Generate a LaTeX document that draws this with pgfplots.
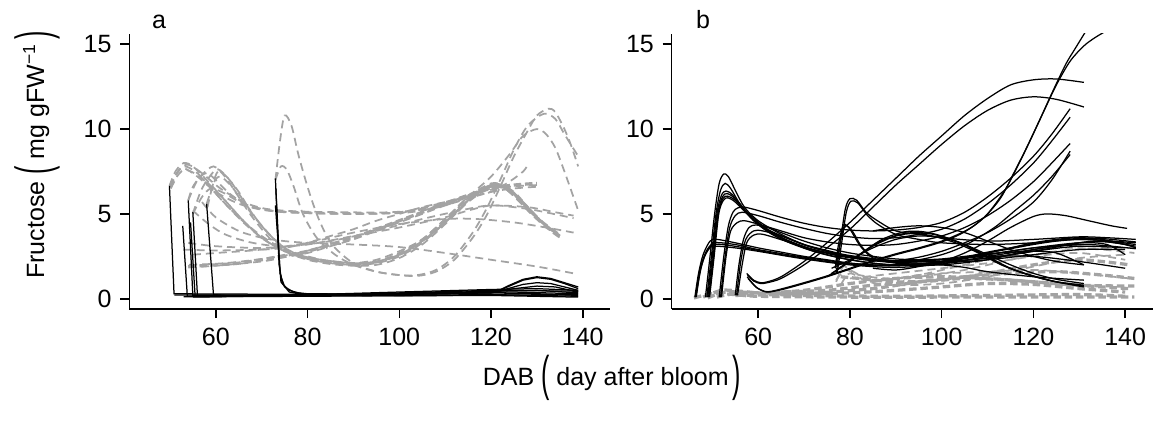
\documentclass[border=0pt]{standalone}
\usepackage{fontspec}
\setmainfont{Liberation Sans}
\usepackage{pgfplots}
\pgfplotsset{compat=1.18}
\usepackage{graphicx}

\definecolor{gry}{RGB}{163,163,163}
\newcommand{\bp}[1]{\raisebox{-0.22em}{\scalebox{1}[1.95]{#1}}}
\newcommand{\fs}{\fontsize{10}{11}\selectfont}

\pgfplotsset{
  panel/.style={
    scale only axis, width=192.4pt, height=110pt,
    anchor=south west,
    xmin=41.15, xmax=146, ymin=-0.6, ymax=15.6,
    axis x line*=bottom, axis y line*=left,
    axis line style={line width=0.6pt,-},
    xtick={60,80,...,140}, ytick={0,5,10,15},
    tick align=outside, major tick length=3.6pt,
    tick style={line width=0.6pt,black},
    ticklabel style={font=\fs},
    xticklabel style={yshift=-0.6pt},
    /pgf/number format/assume math mode=true,
  },
  blk/.style={black, line width=0.5pt},
  sblk/.style={black, line width=0.5pt, smooth, tension=0.5},
  gd/.style={gry, line width=0.7pt, dash pattern=on 3.2pt off 2pt, smooth, tension=0.5},
  gdt/.style={gry, line width=1.3pt, dash pattern=on 3pt off 1.5pt, smooth, tension=0.5},
}

\begin{document}
\begin{tikzpicture}
\useasboundingbox (0,0) rectangle (462pt,169.2pt);

% ---------------- panel a ----------------
\begin{axis}[panel, at={(51.72pt,45.6pt)}]
% grey dashed
\addplot[gd] coordinates {(49.9,6.65)(51.2,7.5)(53,8.0)(55,7.8)(58,7.0)(62,5.8)(66,4.6)(70,3.6)(75,2.8)(80,2.35)(85,2.1)(90,2.0)(95,2.1)(100,2.5)(105,3.3)(110,4.5)(115,5.8)(119,6.6)(122,6.7)(126,5.8)(130,4.8)(134.5,3.8)};
\addplot[gd] coordinates {(50,6.6)(51.5,7.4)(53.2,7.8)(56,7.4)(60,6.2)(65,4.8)(70,3.7)(75,2.9)(80,2.5)(85,2.2)(90,2.1)(95,2.2)(100,2.7)(105,3.5)(110,4.7)(115,6.0)(120,6.8)(123,6.6)(127,5.6)(131,4.5)(135,3.7)};
\addplot[gd] coordinates {(50.2,6.5)(51.8,7.3)(53.5,7.6)(57,7.1)(61,5.9)(66,4.5)(71,3.4)(76,2.7)(81,2.3)(86,2.1)(91,2.0)(96,2.2)(101,2.7)(106,3.6)(111,4.8)(116,6.0)(120,6.7)(124,6.4)(128,5.3)(132,4.3)(135,3.75)};
\addplot[gd] coordinates {(54,5.8)(55,6.6)(57,7.3)(59.5,7.8)(62,7.2)(65,6.0)(68,4.8)(72,3.5)(76,2.7)(80,2.3)(85,2.05)(90,1.95)(95,2.0)(100,2.4)(105,3.2)(110,4.4)(115,5.7)(120,6.6)(123,6.7)(127,5.7)(131,4.6)(135,3.8)};
\addplot[gd] coordinates {(55,5.0)(57,6.5)(60,7.6)(62,7.3)(65,6.3)(68,5.0)(72,3.7)(76,2.8)(80,2.4)(85,2.15)(90,2.05)(95,2.15)(100,2.6)(105,3.4)(110,4.6)(115,5.9)(120,6.7)(124,6.5)(128,5.3)(132,4.3)(135,3.7)};
\addplot[gd] coordinates {(58,5.6)(59,6.4)(60.5,7.5)(63,7.0)(66,5.8)(70,4.3)(74,3.2)(78,2.6)(83,2.3)(90,2.1)(95,2.2)(100,2.6)(105,3.4)(110,4.5)(115,5.8)(120,6.6)(124,6.4)(128,5.4)(132,4.3)(134.5,3.8)};
\addplot[gd] coordinates {(58.2,5.4)(59.5,6.8)(61,7.2)(63.5,6.6)(67,5.3)(71,4.0)(75,3.0)(80,2.45)(86,2.2)(92,2.1)(97,2.3)(102,2.9)(107,3.8)(112,5.0)(117,6.2)(121,6.75)(125,6.2)(129,5.0)(133,4.1)(135,3.7)};
\addplot[gd] coordinates {(50,6.6)(51.5,7.4)(53,7.7)(56,7.2)(60,6.3)(65,5.6)(70,5.25)(75,5.1)(80,5.05)(90,5.0)(100,5.05)(105,5.2)(110,5.5)(115,6.0)(120,6.5)(123,6.5)(127,5.5)(131,4.5)(135,3.7)};
\addplot[gd] coordinates {(54,5.8)(56,7.0)(58,7.4)(60,7.0)(63,6.2)(67,5.5)(72,5.2)(80,5.1)(90,5.05)(100,5.1)(110,5.6)(115,6.1)(120,6.6)(124,6.4)(128,5.2)(132,4.2)(135,3.7)};
\addplot[gd] coordinates {(55,5.0)(57,6.0)(59,6.5)(62,6.2)(66,5.6)(72,5.2)(80,5.05)(90,5.0)(100,5.1)(110,5.7)(118,6.4)(121,6.8)(125,6.3)(129,5.1)(133,4.0)(135,3.6)};
\addplot[gd] coordinates {(50.1,6.6)(52,7.6)(54,7.9)(57,7.4)(61,6.5)(66,5.7)(71,5.3)(78,5.15)(88,5.1)(98,5.1)(106,5.3)(112,5.8)(118,6.4)(122,6.6)(126,5.9)(130,4.8)(134,3.9)};
\addplot[gdt] coordinates {(54,1.9)(60,2.0)(65,2.1)(70,2.3)(75,2.55)(80,2.8)(85,3.2)(90,3.6)(95,4.1)(100,4.6)(105,5.1)(110,5.6)(115,6.1)(120,6.5)(125,6.7)(130,6.8)};
\addplot[gd] coordinates {(54,1.85)(60,1.95)(70,2.2)(75,2.45)(80,2.7)(85,3.1)(90,3.5)(95,4.0)(100,4.5)(105,5.0)(110,5.5)(115,5.9)(120,6.3)(125,6.5)(130,6.6)};
\addplot[gd] coordinates {(54.2,2.0)(62,2.1)(70,2.35)(78,2.7)(86,3.3)(94,4.0)(102,4.8)(110,5.6)(118,6.3)(124,6.6)(130,6.7)};
\addplot[gd] coordinates {(53,2.9)(60,2.85)(70,2.9)(75,3.0)(80,3.3)(85,3.7)(90,4.1)(95,4.6)(100,5.0)(105,5.4)(110,5.7)(115,6.0)(120,6.3)(124,6.9)(127,7.5)(128,7.9)};
\addplot[gd] coordinates {(54,3.3)(60,3.1)(70,3.0)(80,3.2)(90,3.7)(100,4.2)(110,4.8)(115,5.2)(120,5.5)(125,5.4)(130,5.2)(138,4.75)};
\addplot[gd] coordinates {(55,2.6)(60,2.7)(70,2.9)(80,3.3)(90,3.9)(100,4.4)(110,4.7)(117,4.7)(125,4.5)(132,4.2)(138,3.9)};
\addplot[gd] coordinates {(57,5.7)(60,4.8)(65,4.0)(70,3.6)(75,3.4)(80,3.3)(90,3.2)(100,3.05)(110,2.7)(120,2.3)(130,1.9)(138,1.5)};
\addplot[gd] coordinates {(55,5.2)(58,4.5)(62,3.8)(68,3.3)(75,3.1)(85,3.4)(95,4.0)(105,4.7)(115,5.3)(120,5.5)(128,5.4)(134,5.1)(138,4.9)};
\addplot[gd] coordinates {(73,7.0)(74,9.3)(75,10.8)(76.5,10.2)(78,8.5)(80,6.6)(82,5.0)(84,3.8)(86,3.0)(90,2.1)(95,1.6)(100,1.4)(104,1.35)(108,1.6)(112,2.3)(116,3.6)(119,4.9)(122,6.6)(125,8.4)(128,9.9)(130,10.8)(132.5,11.2)(134,11.0)(136,10.0)(137.5,9.0)(139,7.8)};
\addplot[gd] coordinates {(73,7.0)(74.2,7.8)(75.5,7.6)(77,6.6)(79,5.0)(82,3.6)(86,2.6)(90,2.0)(95,1.6)(100,1.4)(104,1.4)(108,1.7)(112,2.5)(116,3.9)(119,5.3)(122,7.0)(125,8.8)(128,10.2)(131.5,10.9)(134,10.6)(136,9.7)(139,8.4)};
\addplot[gd] coordinates {(58,6.9)(62,5.8)(66,4.6)(70,3.6)(75,2.8)(80,2.4)(85,2.2)(90,2.1)(95,2.3)(100,2.8)(105,3.5)(110,4.7)(115,6.0)(120,7.2)(124,8.5)(127,9.6)(130,10.0)(132,9.7)(134,8.9)(136,7.5)(139,5.2)};
% black solid
\addplot[blk] coordinates {(49.9,6.65)(50.9,0.3)(60,0.28)(80,0.27)(100,0.3)(120,0.35)(130,0.3)(139,0.2)};
\addplot[blk] coordinates {(52.8,4.3)(53.8,0.15)(70,0.15)(90,0.2)(110,0.3)(121,0.4)(124,0.8)(127,1.15)(130,1.3)(133,1.2)(136,0.95)(139,0.7)};
\addplot[blk] coordinates {(54.0,5.8)(55.0,0.2)(70,0.2)(90,0.25)(110,0.35)(121,0.4)(124,0.75)(127,1.1)(130,1.25)(133,1.15)(136,0.9)(139,0.6)};
\addplot[blk] coordinates {(55.0,5.1)(56.0,0.2)(70,0.2)(90,0.22)(110,0.3)(120,0.35)(123,0.55)(127,0.85)(130,0.95)(133,0.9)(136,0.7)(139,0.5)};
\addplot[blk] coordinates {(58.0,5.6)(59.5,0.25)(62,0.2)(80,0.2)(100,0.25)(120,0.35)(125,0.6)(130,0.75)(134,0.7)(139,0.4)};
\addplot[blk] coordinates {(73.0,7.1)(73.8,2)(74.5,0.9)(76,0.5)(78,0.35)(80,0.3)(90,0.28)(110,0.35)(125,0.4)(139,0.3)};
\addplot[blk] coordinates {(73.1,6.5)(74,1.5)(75,0.7)(77,0.4)(80,0.25)(100,0.2)(120,0.25)(139,0.15)};
\addplot[blk] coordinates {(73.0,5.5)(74.2,1.0)(76,0.4)(80,0.2)(100,0.18)(120,0.2)(139,0.1)};
\addplot[blk] coordinates {(54.5,4.5)(55.5,0.15)(80,0.15)(110,0.2)(139,0.25)};
\addplot[blk] coordinates {(53,0.12)(80,0.15)(100,0.3)(120,0.45)(130,0.5)(139,0.35)};
\addplot[blk] coordinates {(55,0.1)(80,0.2)(100,0.35)(120,0.5)(139,0.45)};
\addplot[blk] coordinates {(51,0.22)(80,0.24)(100,0.4)(120,0.55)(130,0.6)(139,0.5)};
\end{axis}

% ---------------- panel b ----------------
\begin{axis}[panel, at={(268.68pt,45.6pt)}]
% grey dashed
\addplot[gdt] coordinates {(46,0.05)(50,0.3)(55,0.25)(60,0.15)(80,0.1)(100,0.1)(120,0.1)(142,0.1)};
\addplot[gdt] coordinates {(48,0.1)(52,0.5)(56,0.45)(62,0.3)(70,0.2)(90,0.15)(110,0.2)(130,0.25)(140,0.15)};
\addplot[gdt] coordinates {(49,0.05)(53,0.4)(60,0.35)(70,0.3)(80,0.35)(90,0.5)(100,0.7)(110,0.9)(120,0.85)(130,0.6)(140,0.4)};
\addplot[gdt] coordinates {(51,0.1)(55,0.3)(65,0.4)(75,0.5)(85,0.8)(95,1.0)(105,1.2)(115,1.1)(125,0.9)(135,0.7)(141,0.6)};
\addplot[gd] coordinates {(77,1.0)(78.5,1.9)(80,1.7)(83,1.3)(86,1.1)(90,1.2)(95,1.4)(100,1.5)(110,1.6)(120,1.7)(130,1.5)(141,1.2)};
\addplot[gd] coordinates {(77,1.1)(79,1.7)(82,1.4)(88,1.2)(95,1.3)(105,1.7)(115,2.3)(125,2.8)(135,3.0)(142,3.0)};
\addplot[gd] coordinates {(78,0.8)(80,1.5)(84,1.0)(90,0.8)(100,0.9)(110,1.3)(120,1.9)(130,2.4)(140,2.6)};
\addplot[gdt] coordinates {(60,0.3)(70,0.5)(80,0.9)(90,1.2)(100,1.3)(110,1.2)(120,1.0)(130,0.8)(142,0.75)};
\addplot[gdt] coordinates {(55,0.2)(70,0.3)(85,0.6)(95,1.0)(105,1.3)(115,1.5)(125,1.6)(135,1.4)(142,1.2)};
\addplot[gd] coordinates {(80,1.2)(90,1.5)(100,1.8)(110,2.1)(120,2.5)(130,2.7)(140,2.3)};
\addplot[gdt] coordinates {(78,1.3)(82,1.2)(90,1.0)(100,1.1)(110,1.5)(120,2.0)(130,2.3)(141,2.0)};
\addplot[gd] coordinates {(85,1.0)(95,1.4)(105,2.0)(115,2.6)(125,3.0)(135,2.9)(142,2.7)};
% black solid
\addplot[sblk] coordinates {(46.2,0.1)(47,1.5)(48,2.6)(49.5,3.4)(51,3.5)(55,3.3)(60,3.0)(65,2.75)(70,2.5)(75,2.3)(80,2.1)(85,2.0)(90,2.0)(95,2.05)(100,2.2)(105,2.45)(110,2.75)(115,3.0)(120,3.25)(125,3.45)(130,3.55)(135,3.55)(142.3,3.35)};
\addplot[sblk] coordinates {(46.5,0.1)(47.3,1.5)(48.3,2.5)(50,3.15)(52,3.2)(56,3.05)(60,2.85)(65,2.6)(70,2.4)(75,2.2)(80,2.05)(85,1.95)(90,1.95)(95,2.0)(100,2.15)(105,2.4)(110,2.7)(115,2.95)(120,3.2)(125,3.4)(130,3.5)(135,3.45)(142.3,3.2)};
\addplot[sblk] coordinates {(46.3,0.1)(47.2,1.6)(48.5,2.7)(50,3.25)(52,3.3)(56,3.15)(60,2.9)(70,2.45)(80,2.1)(90,1.95)(100,2.15)(110,2.6)(120,3.0)(130,3.2)(135,3.15)(142.3,2.95)};
\addplot[sblk] coordinates {(46.4,0.1)(47.5,1.8)(49,2.9)(50.5,3.1)(55,3.0)(60,2.8)(70,2.35)(80,2.0)(90,1.85)(100,2.05)(110,2.5)(120,2.9)(130,3.3)(136,3.35)(142.3,3.1)};
\addplot[sblk] coordinates {(48.5,0.1)(49.5,2.5)(50.5,5)(51.5,6.8)(52.5,7.35)(53.5,7.2)(55,6.4)(57,5.4)(60,4.6)(65,3.8)(70,3.2)(75,2.8)(80,2.5)(85,2.3)(90,2.2)(100,2.2)(110,2.4)(120,2.8)(130,3.3)(135,3.4)(142,3.1)};
\addplot[sblk] coordinates {(48.8,0.1)(49.8,2.5)(50.8,5.0)(51.8,6.4)(52.8,6.8)(54,6.5)(56,5.6)(59,4.6)(63,3.8)(68,3.2)(75,2.7)(80,2.45)(85,2.25)(90,2.15)(95,2.3)(100,2.6)(104,3.0)(108,3.6)(112,4.3)(116,5.2)(120,6.1)(124,7.2)(128,8.5)};
\addplot[sblk] coordinates {(49,0.1)(50,2.5)(51,5.0)(52,6.1)(53,6.35)(54.5,6.1)(57,5.2)(60,4.4)(65,3.6)(70,3.0)(75,2.6)(80,2.3)(85,2.1)(90,2.0)(95,2.05)(100,2.2)(105,2.4)(110,2.7)(115,3.0)(120,3.3)(125,3.5)(130,3.6)(135,3.5)(140,3.2)(142.3,3.0)};
\addplot[sblk] coordinates {(49.2,0.1)(50.2,2.5)(51.2,5.0)(52.2,6.0)(53.2,6.2)(55,5.9)(58,5.0)(62,4.1)(66,3.5)(72,2.9)(78,2.5)(85,2.25)(90,2.25)(95,2.45)(100,2.8)(105,3.3)(110,3.9)(115,4.7)(120,5.7)(124,7.0)(128,8.7)};
\addplot[sblk] coordinates {(49.3,0.1)(50.3,2.5)(51.3,5.0)(52.3,5.9)(53.3,6.05)(55,5.8)(58,4.9)(62,4.0)(66,3.4)(72,2.8)(78,2.4)(85,2.1)(90,2.0)(100,2.0)(110,2.3)(115,2.6)(120,2.9)(125,3.1)(131,3.2)};
\addplot[sblk] coordinates {(49.4,0.1)(50.4,2.5)(51.4,5.0)(52.4,5.8)(53.4,5.95)(55,5.7)(58,4.9)(62,4.1)(67,3.5)(72,3.0)(80,2.5)(90,2.15)(95,2.1)(100,2.0)(105,1.85)(110,1.6)(120,1.3)(131,1.1)};
\addplot[sblk] coordinates {(51.5,0.1)(52.5,2.5)(53.5,4.3)(54.5,5.1)(55.5,5.35)(57,5.4)(60,5.2)(65,4.8)(70,4.45)(75,4.2)(80,4.05)(85,4.0)(90,4.05)(95,4.2)(100,4.5)(105,5.1)(110,6.0)(115,7.1)(120,8.4)(124,9.7)(128,11.2)};
\addplot[sblk] coordinates {(51.8,0.1)(52.8,2.5)(53.8,4.2)(55,4.9)(56.5,5.1)(60,4.9)(65,4.5)(70,4.15)(75,3.85)(80,3.65)(85,3.55)(90,3.6)(95,3.8)(100,4.1)(105,4.7)(110,5.6)(115,6.7)(120,8.0)(124,9.3)(128,10.7)};
\addplot[sblk] coordinates {(52,0.1)(53,2.5)(54,4.0)(55.5,4.5)(57,4.6)(60,4.4)(65,4.0)(70,3.6)(75,3.35)(80,3.2)(85,3.15)(90,3.2)(95,3.4)(100,3.7)(105,4.2)(110,4.9)(115,5.8)(120,6.9)(124,8.0)(128,9.15)};
\addplot[sblk] coordinates {(55,0.2)(55.8,2.0)(56.8,3.5)(58,4.2)(59.5,4.35)(62,4.2)(66,3.8)(70,3.4)(75,3.0)(80,2.7)(85,2.5)(90,2.35)(95,2.3)(100,2.35)(105,2.5)(110,2.65)(115,2.75)(120,2.8)(125,2.7)(131,2.0)};
\addplot[sblk] coordinates {(55.3,0.2)(56.2,2.2)(57.3,3.5)(59,4.0)(61,4.0)(65,3.7)(70,3.2)(75,2.85)(80,2.55)(90,2.25)(100,2.3)(110,2.6)(120,3.0)(130,3.3)(136,3.2)(140,2.6)};
\addplot[sblk] coordinates {(55.5,0.2)(56.5,2.0)(57.5,3.3)(59,3.75)(61,3.8)(66,3.4)(72,2.9)(80,2.5)(90,2.2)(100,2.3)(110,2.5)(120,2.5)(130,2.2)(140,1.8)};
\addplot[sblk] coordinates {(57.5,1.5)(59,1.1)(60.5,0.95)(62,1.0)(65,1.3)(70,2.2)(75,3.3)(80,4.5)(85,5.8)(90,7.1)(95,8.4)(100,9.6)(105,10.8)(110,11.8)(115,12.6)(120,12.9)(125,12.95)(131,12.75)};
\addplot[sblk] coordinates {(57.7,1.4)(59,1.05)(60.5,0.9)(62,0.95)(65,1.2)(70,2.0)(75,3.0)(80,4.1)(85,5.4)(90,6.7)(95,7.9)(100,9.1)(105,10.2)(110,11.1)(115,11.7)(120,11.9)(125,11.75)(131,11.3)};
\addplot[sblk] coordinates {(57.6,1.3)(59.5,0.7)(61.5,0.43)(63,0.45)(66,0.65)(70,0.95)(75,1.35)(80,1.8)(85,2.25)(90,2.65)(95,3.0)(100,3.4)(104,3.85)(107,4.3)(110,5.0)(113,6.0)(115.7,7.4)(118.5,8.9)(121.3,10.5)(124,12.1)(127,13.8)(129,14.7)(131.5,15.8)};
\addplot[sblk] coordinates {(57.8,1.2)(59.7,0.65)(61.8,0.4)(63.5,0.45)(66,0.6)(70,0.9)(75,1.3)(80,1.75)(85,2.2)(90,2.6)(95,2.95)(100,3.35)(104,3.8)(107,4.3)(110,5.0)(114,6.5)(118,8.6)(122,10.9)(125,12.6)(128,14.0)(131,14.9)(133.5,15.4)(136,15.8)};
\addplot[sblk] coordinates {(77,1.5)(78,3.5)(79,5.3)(80,5.9)(81.5,5.8)(83.5,5.1)(86,4.6)(90,4.0)(95,3.8)(100,3.6)(110,3.4)(120,3.5)(130,3.65)(136,3.6)(142.3,3.5)};
\addplot[sblk] coordinates {(77.2,1.5)(78.2,3.3)(79.2,5.1)(80.2,5.75)(81.7,5.65)(83.7,4.95)(86,4.4)(90,3.8)(95,3.5)(100,3.3)(110,3.2)(120,3.3)(130,3.5)(142.3,3.3)};
\addplot[sblk] coordinates {(76.8,1.8)(77.5,3.2)(78.6,4.35)(80,4.1)(82,3.2)(84,2.6)(86,2.3)(90,2.1)(95,2.05)(100,2.1)(110,2.3)(120,2.6)(130,2.9)(140,2.9)};
\addplot[sblk] coordinates {(77,2.0)(78,3.5)(79,4.3)(80.5,4.0)(82.5,3.1)(85,2.5)(90,2.2)(95,2.1)(100,2.15)(110,2.4)(120,2.8)(130,3.1)(140,3.0)};
\addplot[sblk] coordinates {(75,1.3)(80,2.2)(85,3.1)(90,3.7)(94,3.85)(98,3.7)(103,3.3)(108,2.7)(113,2.0)(118,1.5)(124,1.05)(131,0.8)};
\addplot[sblk] coordinates {(76,1.5)(81,2.4)(86,3.3)(91,3.8)(95,3.9)(99,3.75)(104,3.3)(109,2.6)(114,1.9)(119,1.4)(125,1.0)(131,0.75)};
\addplot[sblk] coordinates {(77,1.7)(82,2.6)(87,3.5)(92,3.95)(96,3.95)(100,3.7)(105,3.2)(110,2.5)(115,1.8)(120,1.35)(125,1.0)(131,0.7)};
\addplot[sblk] coordinates {(76,1.8)(80,2.3)(85,3.0)(90,3.5)(95,3.7)(100,3.6)(105,3.2)(110,2.6)(115,2.0)(120,1.5)(125,1.15)(131,0.9)};
\addplot[sblk] coordinates {(85,1.8)(90,1.7)(95,1.9)(100,2.2)(105,2.7)(110,3.4)(115,4.2)(120,4.85)(123,5.0)(127,4.9)(132,4.6)(137,4.3)(140.4,4.15)};
\addplot[sblk] coordinates {(85,4.0)(90,4.2)(95,4.3)(100,4.2)(105,3.9)(110,3.4)(115,2.9)(120,2.5)(125,2.2)(131,2.0)};
\end{axis}

% ---------------- labels ----------------
\node[rotate=90, font=\fs] at (14.8pt,107.2pt)
  {Fructose \bp{(} mg gFW\textsuperscript{−1}\,\bp{)}};
\node[font=\fs] at (244.8pt,18pt)
  {DAB \bp{(} day after bloom\,\bp{)}};
\node[font=\fs] at (63.6pt,160.4pt) {a};
\node[font=\fs] at (281.2pt,161.2pt) {b};
\end{tikzpicture}
\end{document}
